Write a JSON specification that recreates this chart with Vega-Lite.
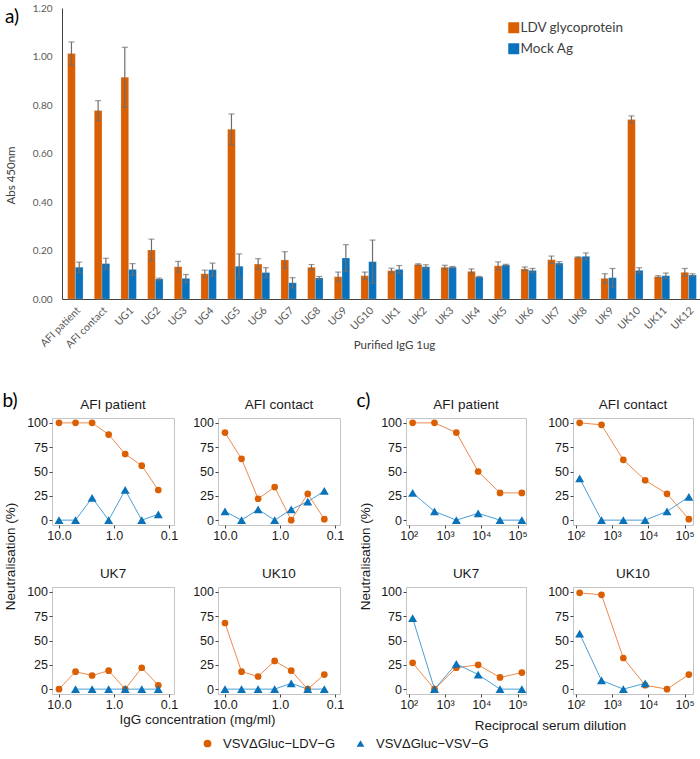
{
  "$schema": "https://vega.github.io/schema/vega-lite/v6.json",
  "padding": {"left": 2, "top": 3, "right": 0, "bottom": 0},
  "background": "white",
  "spacing": 40,
  "resolve": {"scale": {"color": "independent", "shape": "independent", "stroke": "independent", "size": "independent"}, "legend": {"color": "independent", "shape": "independent"}},
  "config": {
    "view": {"stroke": "#c4c4c4"},
    "axis": {"labelFont": "Liberation Sans", "labelFontSize": 12.5, "labelColor": "#1a1a1a", "tickColor": "#444444", "tickSize": 3, "domain": false, "grid": false, "labelPadding": 1.5, "titleFont": "Liberation Sans", "titleFontSize": 13.5, "titleFontWeight": "normal", "titleColor": "#1a1a1a", "labelOverlap": false, "labelFlush": false},
    "title": {"font": "Liberation Sans", "fontSize": 13.5, "fontWeight": "normal", "color": "#1a1a1a", "offset": 5}
  },
  "datasets": {
    "adata": [
      {"sample": "AFI patient", "antigen": "LDV glycoprotein", "value": 1.012, "lo": 0.964, "hi": 1.06},
      {"sample": "AFI patient", "antigen": "Mock Ag", "value": 0.131, "lo": 0.11, "hi": 0.152},
      {"sample": "AFI contact", "antigen": "LDV glycoprotein", "value": 0.777, "lo": 0.736, "hi": 0.818},
      {"sample": "AFI contact", "antigen": "Mock Ag", "value": 0.146, "lo": 0.124, "hi": 0.168},
      {"sample": "UG1", "antigen": "LDV glycoprotein", "value": 0.914, "lo": 0.79, "hi": 1.038},
      {"sample": "UG1", "antigen": "Mock Ag", "value": 0.122, "lo": 0.098, "hi": 0.146},
      {"sample": "UG2", "antigen": "LDV glycoprotein", "value": 0.202, "lo": 0.157, "hi": 0.247},
      {"sample": "UG2", "antigen": "Mock Ag", "value": 0.082, "lo": 0.078, "hi": 0.086},
      {"sample": "UG3", "antigen": "LDV glycoprotein", "value": 0.133, "lo": 0.111, "hi": 0.155},
      {"sample": "UG3", "antigen": "Mock Ag", "value": 0.085, "lo": 0.069, "hi": 0.101},
      {"sample": "UG4", "antigen": "LDV glycoprotein", "value": 0.104, "lo": 0.089, "hi": 0.119},
      {"sample": "UG4", "antigen": "Mock Ag", "value": 0.121, "lo": 0.094, "hi": 0.148},
      {"sample": "UG5", "antigen": "LDV glycoprotein", "value": 0.7, "lo": 0.637, "hi": 0.763},
      {"sample": "UG5", "antigen": "Mock Ag", "value": 0.135, "lo": 0.084, "hi": 0.186},
      {"sample": "UG6", "antigen": "LDV glycoprotein", "value": 0.144, "lo": 0.122, "hi": 0.166},
      {"sample": "UG6", "antigen": "Mock Ag", "value": 0.109, "lo": 0.089, "hi": 0.129},
      {"sample": "UG7", "antigen": "LDV glycoprotein", "value": 0.161, "lo": 0.127, "hi": 0.195},
      {"sample": "UG7", "antigen": "Mock Ag", "value": 0.067, "lo": 0.046, "hi": 0.088},
      {"sample": "UG8", "antigen": "LDV glycoprotein", "value": 0.131, "lo": 0.12, "hi": 0.142},
      {"sample": "UG8", "antigen": "Mock Ag", "value": 0.087, "lo": 0.081, "hi": 0.093},
      {"sample": "UG9", "antigen": "LDV glycoprotein", "value": 0.092, "lo": 0.073, "hi": 0.111},
      {"sample": "UG9", "antigen": "Mock Ag", "value": 0.169, "lo": 0.114, "hi": 0.224},
      {"sample": "UG10", "antigen": "LDV glycoprotein", "value": 0.096, "lo": 0.081, "hi": 0.111},
      {"sample": "UG10", "antigen": "Mock Ag", "value": 0.154, "lo": 0.065, "hi": 0.243},
      {"sample": "UK1", "antigen": "LDV glycoprotein", "value": 0.117, "lo": 0.107, "hi": 0.127},
      {"sample": "UK1", "antigen": "Mock Ag", "value": 0.122, "lo": 0.106, "hi": 0.138},
      {"sample": "UK2", "antigen": "LDV glycoprotein", "value": 0.142, "lo": 0.139, "hi": 0.145},
      {"sample": "UK2", "antigen": "Mock Ag", "value": 0.133, "lo": 0.125, "hi": 0.141},
      {"sample": "UK3", "antigen": "LDV glycoprotein", "value": 0.131, "lo": 0.123, "hi": 0.139},
      {"sample": "UK3", "antigen": "Mock Ag", "value": 0.131, "lo": 0.128, "hi": 0.134},
      {"sample": "UK4", "antigen": "LDV glycoprotein", "value": 0.114, "lo": 0.104, "hi": 0.124},
      {"sample": "UK4", "antigen": "Mock Ag", "value": 0.091, "lo": 0.089, "hi": 0.093},
      {"sample": "UK5", "antigen": "LDV glycoprotein", "value": 0.137, "lo": 0.121, "hi": 0.153},
      {"sample": "UK5", "antigen": "Mock Ag", "value": 0.14, "lo": 0.137, "hi": 0.143},
      {"sample": "UK6", "antigen": "LDV glycoprotein", "value": 0.124, "lo": 0.116, "hi": 0.132},
      {"sample": "UK6", "antigen": "Mock Ag", "value": 0.118, "lo": 0.11, "hi": 0.126},
      {"sample": "UK7", "antigen": "LDV glycoprotein", "value": 0.162, "lo": 0.147, "hi": 0.177},
      {"sample": "UK7", "antigen": "Mock Ag", "value": 0.148, "lo": 0.142, "hi": 0.154},
      {"sample": "UK8", "antigen": "LDV glycoprotein", "value": 0.172, "lo": 0.17, "hi": 0.174},
      {"sample": "UK8", "antigen": "Mock Ag", "value": 0.176, "lo": 0.162, "hi": 0.19},
      {"sample": "UK9", "antigen": "LDV glycoprotein", "value": 0.085, "lo": 0.066, "hi": 0.104},
      {"sample": "UK9", "antigen": "Mock Ag", "value": 0.088, "lo": 0.05, "hi": 0.126},
      {"sample": "UK10", "antigen": "LDV glycoprotein", "value": 0.74, "lo": 0.725, "hi": 0.755},
      {"sample": "UK10", "antigen": "Mock Ag", "value": 0.118, "lo": 0.107, "hi": 0.129},
      {"sample": "UK11", "antigen": "LDV glycoprotein", "value": 0.092, "lo": 0.088, "hi": 0.096},
      {"sample": "UK11", "antigen": "Mock Ag", "value": 0.096, "lo": 0.085, "hi": 0.107},
      {"sample": "UK12", "antigen": "LDV glycoprotein", "value": 0.11, "lo": 0.094, "hi": 0.126},
      {"sample": "UK12", "antigen": "Mock Ag", "value": 0.099, "lo": 0.094, "hi": 0.104}
    ],
    "bdata": [
      {"sample": "AFI patient", "virus": "VSVΔGluc−LDV−G", "conc": 10, "neut": 100},
      {"sample": "AFI patient", "virus": "VSVΔGluc−LDV−G", "conc": 5, "neut": 100},
      {"sample": "AFI patient", "virus": "VSVΔGluc−LDV−G", "conc": 2.5, "neut": 100},
      {"sample": "AFI patient", "virus": "VSVΔGluc−LDV−G", "conc": 1.25, "neut": 88},
      {"sample": "AFI patient", "virus": "VSVΔGluc−LDV−G", "conc": 0.625, "neut": 68},
      {"sample": "AFI patient", "virus": "VSVΔGluc−LDV−G", "conc": 0.3125, "neut": 56},
      {"sample": "AFI patient", "virus": "VSVΔGluc−LDV−G", "conc": 0.15625, "neut": 31},
      {"sample": "AFI contact", "virus": "VSVΔGluc−LDV−G", "conc": 10, "neut": 90},
      {"sample": "AFI contact", "virus": "VSVΔGluc−LDV−G", "conc": 5, "neut": 63},
      {"sample": "AFI contact", "virus": "VSVΔGluc−LDV−G", "conc": 2.5, "neut": 22},
      {"sample": "AFI contact", "virus": "VSVΔGluc−LDV−G", "conc": 1.25, "neut": 34},
      {"sample": "AFI contact", "virus": "VSVΔGluc−LDV−G", "conc": 0.625, "neut": 0},
      {"sample": "AFI contact", "virus": "VSVΔGluc−LDV−G", "conc": 0.3125, "neut": 27},
      {"sample": "AFI contact", "virus": "VSVΔGluc−LDV−G", "conc": 0.15625, "neut": 1},
      {"sample": "UK7", "virus": "VSVΔGluc−LDV−G", "conc": 10, "neut": 0},
      {"sample": "UK7", "virus": "VSVΔGluc−LDV−G", "conc": 5, "neut": 18},
      {"sample": "UK7", "virus": "VSVΔGluc−LDV−G", "conc": 2.5, "neut": 14},
      {"sample": "UK7", "virus": "VSVΔGluc−LDV−G", "conc": 1.25, "neut": 19},
      {"sample": "UK7", "virus": "VSVΔGluc−LDV−G", "conc": 0.625, "neut": 0},
      {"sample": "UK7", "virus": "VSVΔGluc−LDV−G", "conc": 0.3125, "neut": 22},
      {"sample": "UK7", "virus": "VSVΔGluc−LDV−G", "conc": 0.15625, "neut": 4},
      {"sample": "UK10", "virus": "VSVΔGluc−LDV−G", "conc": 10, "neut": 68},
      {"sample": "UK10", "virus": "VSVΔGluc−LDV−G", "conc": 5, "neut": 18},
      {"sample": "UK10", "virus": "VSVΔGluc−LDV−G", "conc": 2.5, "neut": 13},
      {"sample": "UK10", "virus": "VSVΔGluc−LDV−G", "conc": 1.25, "neut": 29},
      {"sample": "UK10", "virus": "VSVΔGluc−LDV−G", "conc": 0.625, "neut": 19},
      {"sample": "UK10", "virus": "VSVΔGluc−LDV−G", "conc": 0.3125, "neut": 0},
      {"sample": "UK10", "virus": "VSVΔGluc−LDV−G", "conc": 0.15625, "neut": 15},
      {"sample": "AFI patient", "virus": "VSVΔGluc−VSV−G", "conc": 10, "neut": 0},
      {"sample": "AFI patient", "virus": "VSVΔGluc−VSV−G", "conc": 5, "neut": 0},
      {"sample": "AFI patient", "virus": "VSVΔGluc−VSV−G", "conc": 2.5, "neut": 23},
      {"sample": "AFI patient", "virus": "VSVΔGluc−VSV−G", "conc": 1.25, "neut": 0},
      {"sample": "AFI patient", "virus": "VSVΔGluc−VSV−G", "conc": 0.625, "neut": 31},
      {"sample": "AFI patient", "virus": "VSVΔGluc−VSV−G", "conc": 0.3125, "neut": 0},
      {"sample": "AFI patient", "virus": "VSVΔGluc−VSV−G", "conc": 0.15625, "neut": 6},
      {"sample": "AFI contact", "virus": "VSVΔGluc−VSV−G", "conc": 10, "neut": 9},
      {"sample": "AFI contact", "virus": "VSVΔGluc−VSV−G", "conc": 5, "neut": 0},
      {"sample": "AFI contact", "virus": "VSVΔGluc−VSV−G", "conc": 2.5, "neut": 11},
      {"sample": "AFI contact", "virus": "VSVΔGluc−VSV−G", "conc": 1.25, "neut": 0},
      {"sample": "AFI contact", "virus": "VSVΔGluc−VSV−G", "conc": 0.625, "neut": 11},
      {"sample": "AFI contact", "virus": "VSVΔGluc−VSV−G", "conc": 0.3125, "neut": 19},
      {"sample": "AFI contact", "virus": "VSVΔGluc−VSV−G", "conc": 0.15625, "neut": 30},
      {"sample": "UK7", "virus": "VSVΔGluc−VSV−G", "conc": 5, "neut": 0},
      {"sample": "UK7", "virus": "VSVΔGluc−VSV−G", "conc": 2.5, "neut": 0},
      {"sample": "UK7", "virus": "VSVΔGluc−VSV−G", "conc": 1.25, "neut": 0},
      {"sample": "UK7", "virus": "VSVΔGluc−VSV−G", "conc": 0.625, "neut": 0},
      {"sample": "UK7", "virus": "VSVΔGluc−VSV−G", "conc": 0.3125, "neut": 0},
      {"sample": "UK7", "virus": "VSVΔGluc−VSV−G", "conc": 0.15625, "neut": 0},
      {"sample": "UK10", "virus": "VSVΔGluc−VSV−G", "conc": 10, "neut": 0},
      {"sample": "UK10", "virus": "VSVΔGluc−VSV−G", "conc": 5, "neut": 0},
      {"sample": "UK10", "virus": "VSVΔGluc−VSV−G", "conc": 2.5, "neut": 0},
      {"sample": "UK10", "virus": "VSVΔGluc−VSV−G", "conc": 1.25, "neut": 0},
      {"sample": "UK10", "virus": "VSVΔGluc−VSV−G", "conc": 0.625, "neut": 6},
      {"sample": "UK10", "virus": "VSVΔGluc−VSV−G", "conc": 0.3125, "neut": 0},
      {"sample": "UK10", "virus": "VSVΔGluc−VSV−G", "conc": 0.15625, "neut": 0}
    ],
    "cdata": [
      {"sample": "AFI patient", "virus": "VSVΔGluc−LDV−G", "dil": 128, "neut": 100},
      {"sample": "AFI patient", "virus": "VSVΔGluc−LDV−G", "dil": 512, "neut": 100},
      {"sample": "AFI patient", "virus": "VSVΔGluc−LDV−G", "dil": 2048, "neut": 90},
      {"sample": "AFI patient", "virus": "VSVΔGluc−LDV−G", "dil": 8192, "neut": 50},
      {"sample": "AFI patient", "virus": "VSVΔGluc−LDV−G", "dil": 32768, "neut": 28},
      {"sample": "AFI patient", "virus": "VSVΔGluc−LDV−G", "dil": 131072, "neut": 28},
      {"sample": "AFI contact", "virus": "VSVΔGluc−LDV−G", "dil": 128, "neut": 100},
      {"sample": "AFI contact", "virus": "VSVΔGluc−LDV−G", "dil": 512, "neut": 98},
      {"sample": "AFI contact", "virus": "VSVΔGluc−LDV−G", "dil": 2048, "neut": 62},
      {"sample": "AFI contact", "virus": "VSVΔGluc−LDV−G", "dil": 8192, "neut": 41},
      {"sample": "AFI contact", "virus": "VSVΔGluc−LDV−G", "dil": 32768, "neut": 27},
      {"sample": "AFI contact", "virus": "VSVΔGluc−LDV−G", "dil": 131072, "neut": 1},
      {"sample": "UK7", "virus": "VSVΔGluc−LDV−G", "dil": 128, "neut": 27},
      {"sample": "UK7", "virus": "VSVΔGluc−LDV−G", "dil": 512, "neut": 0},
      {"sample": "UK7", "virus": "VSVΔGluc−LDV−G", "dil": 2048, "neut": 22},
      {"sample": "UK7", "virus": "VSVΔGluc−LDV−G", "dil": 8192, "neut": 25},
      {"sample": "UK7", "virus": "VSVΔGluc−LDV−G", "dil": 32768, "neut": 12},
      {"sample": "UK7", "virus": "VSVΔGluc−LDV−G", "dil": 131072, "neut": 17},
      {"sample": "UK10", "virus": "VSVΔGluc−LDV−G", "dil": 128, "neut": 99},
      {"sample": "UK10", "virus": "VSVΔGluc−LDV−G", "dil": 512, "neut": 97},
      {"sample": "UK10", "virus": "VSVΔGluc−LDV−G", "dil": 2048, "neut": 32},
      {"sample": "UK10", "virus": "VSVΔGluc−LDV−G", "dil": 8192, "neut": 4},
      {"sample": "UK10", "virus": "VSVΔGluc−LDV−G", "dil": 32768, "neut": 0},
      {"sample": "UK10", "virus": "VSVΔGluc−LDV−G", "dil": 131072, "neut": 15},
      {"sample": "AFI patient", "virus": "VSVΔGluc−VSV−G", "dil": 128, "neut": 28},
      {"sample": "AFI patient", "virus": "VSVΔGluc−VSV−G", "dil": 512, "neut": 9},
      {"sample": "AFI patient", "virus": "VSVΔGluc−VSV−G", "dil": 2048, "neut": 0},
      {"sample": "AFI patient", "virus": "VSVΔGluc−VSV−G", "dil": 8192, "neut": 7},
      {"sample": "AFI patient", "virus": "VSVΔGluc−VSV−G", "dil": 32768, "neut": 0},
      {"sample": "AFI patient", "virus": "VSVΔGluc−VSV−G", "dil": 131072, "neut": 0},
      {"sample": "AFI contact", "virus": "VSVΔGluc−VSV−G", "dil": 128, "neut": 43},
      {"sample": "AFI contact", "virus": "VSVΔGluc−VSV−G", "dil": 512, "neut": 0},
      {"sample": "AFI contact", "virus": "VSVΔGluc−VSV−G", "dil": 2048, "neut": 0},
      {"sample": "AFI contact", "virus": "VSVΔGluc−VSV−G", "dil": 8192, "neut": 0},
      {"sample": "AFI contact", "virus": "VSVΔGluc−VSV−G", "dil": 32768, "neut": 9},
      {"sample": "AFI contact", "virus": "VSVΔGluc−VSV−G", "dil": 131072, "neut": 24},
      {"sample": "UK7", "virus": "VSVΔGluc−VSV−G", "dil": 128, "neut": 73},
      {"sample": "UK7", "virus": "VSVΔGluc−VSV−G", "dil": 512, "neut": 0},
      {"sample": "UK7", "virus": "VSVΔGluc−VSV−G", "dil": 2048, "neut": 26},
      {"sample": "UK7", "virus": "VSVΔGluc−VSV−G", "dil": 8192, "neut": 15},
      {"sample": "UK7", "virus": "VSVΔGluc−VSV−G", "dil": 32768, "neut": 0},
      {"sample": "UK7", "virus": "VSVΔGluc−VSV−G", "dil": 131072, "neut": 0},
      {"sample": "UK10", "virus": "VSVΔGluc−VSV−G", "dil": 128, "neut": 57},
      {"sample": "UK10", "virus": "VSVΔGluc−VSV−G", "dil": 512, "neut": 9},
      {"sample": "UK10", "virus": "VSVΔGluc−VSV−G", "dil": 2048, "neut": 0},
      {"sample": "UK10", "virus": "VSVΔGluc−VSV−G", "dil": 8192, "neut": 6}
    ]
  },
  "vconcat": [
    {
      "width": 650,
      "height": 291,
      "view": {"stroke": null},
      "title": {"text": "a)", "anchor": "start", "font": "Lato", "fontSize": 19, "fontWeight": "normal", "color": "#000000", "dx": 0, "dy": 29},
      "data": {"name": "adata"},
      "encoding": {
        "x": {"field": "sample", "type": "nominal", "sort": ["AFI patient", "AFI contact", "UG1", "UG2", "UG3", "UG4", "UG5", "UG6", "UG7", "UG8", "UG9", "UG10", "UK1", "UK2", "UK3", "UK4", "UK5", "UK6", "UK7", "UK8", "UK9", "UK10", "UK11", "UK12"],
          "scale": {"range": [10, 650], "paddingInner": 0.42, "paddingOuter": 0.21},
          "axis": {"title": "Purified IgG 1ug", "titleX": 342, "titleY": 40, "labelAngle": -45, "labelFont": "Lato", "labelFontSize": 10.5, "labelColor": "#595959", "ticks": false, "domain": true, "domainColor": "#404040", "titleFont": "Lato", "titleFontSize": 11.5, "titleColor": "#404040", "labelPadding": 6}},
        "xOffset": {"field": "antigen", "type": "nominal", "sort": ["LDV glycoprotein", "Mock Ag"]}
      },
      "layer": [
        {
          "mark": {"type": "bar", "stroke": "#ffffff", "strokeOpacity": 0.35, "strokeWidth": 0.6},
          "encoding": {
            "y": {"field": "value", "type": "quantitative", "scale": {"domain": [0, 1.2], "nice": false},
              "axis": {"values": [0, 0.2, 0.4, 0.6, 0.8, 1.0, 1.2], "format": ".2f", "ticks": false, "domain": true, "domainColor": "#404040", "offset": -10, "labelFont": "Lato", "labelFontSize": 10, "labelColor": "#595959", "labelPadding": 10, "title": "Abs 450nm", "titleFont": "Lato", "titleFontSize": 11.5, "titleColor": "#404040", "titleX": -46, "titleY": 167}},
            "color": {"field": "antigen", "type": "nominal", "scale": {"domain": ["LDV glycoprotein", "Mock Ag"], "range": ["#DA5F02", "#0A72BC"]},
              "legend": {"orient": "none", "legendX": 455, "legendY": 13, "title": null, "symbolType": "square", "symbolSize": 121, "symbolStrokeWidth": 0, "labelFont": "Lato", "labelFontSize": 13.5, "labelColor": "#404040", "labelOffset": 0, "rowPadding": 6}}
          }
        },
        {
          "mark": {"type": "rule", "color": "#6e6e6e", "strokeWidth": 1.2},
          "encoding": {"y": {"field": "lo", "type": "quantitative"}, "y2": {"field": "hi"}}
        },
        {
          "mark": {"type": "tick", "color": "#6e6e6e", "size": 6, "thickness": 1.2},
          "encoding": {"y": {"field": "hi", "type": "quantitative"}}
        },
        {
          "mark": {"type": "tick", "color": "#6e6e6e", "size": 6, "thickness": 1.2},
          "encoding": {"y": {"field": "lo", "type": "quantitative"}}
        }
      ]
    },
    {
      "spacing": 8,
      "resolve": {"legend": {"color": "independent", "shape": "independent"}},
      "hconcat": [
        {
          "title": {"text": "b)", "anchor": "start", "font": "Lato", "fontSize": 19, "fontWeight": "normal", "color": "#000000", "dx": 0, "dy": 18},
          "bounds": "flush",
          "columns": 2,
          "spacing": {"row": 62, "column": 44},
          "resolve": {"legend": {"color": "independent", "shape": "independent"}},
          "concat": [
            {
              "width": 122, "height": 107, "title": "AFI patient",
              "data": {"name": "bdata"},
              "transform": [{"filter": "datum.sample == 'AFI patient'"}],
              "encoding": {
                "x": {"field": "conc", "type": "quantitative", "scale": {"type": "log", "domain": [0.081, 13.4], "reverse": true, "nice": false}, "axis": {"values": [10, 1, 0.1], "format": ".1f", "title": null}},
                "y": {"field": "neut", "type": "quantitative", "scale": {"domain": [-5, 105], "nice": false}, "axis": {"values": [0, 25, 50, 75, 100], "title": "Neutralisation (%)", "titleX": -35, "titleY": 138}}
              },
              "layer": [
                {"mark": {"type": "line", "strokeWidth": 1}, "encoding": {"stroke": {"field": "virus", "type": "nominal", "scale": {"domain": ["VSVΔGluc−LDV−G", "VSVΔGluc−VSV−G"], "range": ["#EE8A4E", "#4C9FD6"]}, "legend": null}}},
                {"mark": {"type": "point", "filled": true, "opacity": 1},
                  "encoding": {
                    "size": {"field": "virus", "type": "nominal", "scale": {"domain": ["VSVΔGluc−LDV−G", "VSVΔGluc−VSV−G"], "range": [45, 80]}, "legend": null},
                    "color": {"field": "virus", "type": "nominal", "scale": {"domain": ["VSVΔGluc−LDV−G", "VSVΔGluc−VSV−G"], "range": ["#D95F02", "#0A72B8"]}, "legend": null},
                    "shape": {"field": "virus", "type": "nominal", "scale": {"domain": ["VSVΔGluc−LDV−G", "VSVΔGluc−VSV−G"], "range": ["circle", "triangle-up"]}, "legend": null}
                  }}
              ]
            },
            {
              "width": 122, "height": 107, "title": "AFI contact",
              "data": {"name": "bdata"},
              "transform": [{"filter": "datum.sample == 'AFI contact'"}],
              "encoding": {
                "x": {"field": "conc", "type": "quantitative", "scale": {"type": "log", "domain": [0.081, 13.4], "reverse": true, "nice": false}, "axis": {"values": [10, 1, 0.1], "format": ".1f", "title": null}},
                "y": {"field": "neut", "type": "quantitative", "scale": {"domain": [-5, 105], "nice": false}, "axis": {"values": [0, 25, 50, 75, 100], "title": null}}
              },
              "layer": [
                {"mark": {"type": "line", "strokeWidth": 1}, "encoding": {"stroke": {"field": "virus", "type": "nominal", "scale": {"domain": ["VSVΔGluc−LDV−G", "VSVΔGluc−VSV−G"], "range": ["#EE8A4E", "#4C9FD6"]}, "legend": null}}},
                {"mark": {"type": "point", "filled": true, "opacity": 1},
                  "encoding": {
                    "size": {"field": "virus", "type": "nominal", "scale": {"domain": ["VSVΔGluc−LDV−G", "VSVΔGluc−VSV−G"], "range": [45, 80]}, "legend": null},
                    "color": {"field": "virus", "type": "nominal", "scale": {"domain": ["VSVΔGluc−LDV−G", "VSVΔGluc−VSV−G"], "range": ["#D95F02", "#0A72B8"]}, "legend": null},
                    "shape": {"field": "virus", "type": "nominal", "scale": {"domain": ["VSVΔGluc−LDV−G", "VSVΔGluc−VSV−G"], "range": ["circle", "triangle-up"]}, "legend": null}
                  }}
              ]
            },
            {
              "width": 122, "height": 107, "title": "UK7",
              "data": {"name": "bdata"},
              "transform": [{"filter": "datum.sample == 'UK7'"}],
              "encoding": {
                "x": {"field": "conc", "type": "quantitative", "scale": {"type": "log", "domain": [0.081, 13.4], "reverse": true, "nice": false}, "axis": {"values": [10, 1, 0.1], "format": ".1f", "title": "IgG concentration (mg/ml)", "titleX": 145, "titleY": 18}},
                "y": {"field": "neut", "type": "quantitative", "scale": {"domain": [-5, 105], "nice": false}, "axis": {"values": [0, 25, 50, 75, 100], "title": null}}
              },
              "layer": [
                {"mark": {"type": "line", "strokeWidth": 1}, "encoding": {"stroke": {"field": "virus", "type": "nominal", "scale": {"domain": ["VSVΔGluc−LDV−G", "VSVΔGluc−VSV−G"], "range": ["#EE8A4E", "#4C9FD6"]}, "legend": null}}},
                {"mark": {"type": "point", "filled": true, "opacity": 1},
                  "encoding": {
                    "size": {"field": "virus", "type": "nominal", "scale": {"domain": ["VSVΔGluc−LDV−G", "VSVΔGluc−VSV−G"], "range": [45, 80]}, "legend": null},
                    "color": {"field": "virus", "type": "nominal", "scale": {"domain": ["VSVΔGluc−LDV−G", "VSVΔGluc−VSV−G"], "range": ["#D95F02", "#0A72B8"]}, "legend": {"values": ["VSVΔGluc−LDV−G"], "orient": "none", "legendX": 149, "legendY": 150, "direction": "horizontal", "title": null, "labelFont": "Liberation Sans", "labelFontSize": 13, "labelColor": "#1a1a1a", "symbolSize": 60, "symbolStrokeWidth": 0, "labelOffset": 9}},
                    "shape": {"field": "virus", "type": "nominal", "scale": {"domain": ["VSVΔGluc−LDV−G", "VSVΔGluc−VSV−G"], "range": ["circle", "triangle-up"]}, "legend": {"values": ["VSVΔGluc−LDV−G"], "orient": "none", "legendX": 149, "legendY": 150, "direction": "horizontal", "title": null, "labelFont": "Liberation Sans", "labelFontSize": 13, "labelColor": "#1a1a1a", "symbolSize": 60, "symbolStrokeWidth": 0, "labelOffset": 9}}
                  }}
              ]
            },
            {
              "width": 122, "height": 107, "title": "UK10",
              "data": {"name": "bdata"},
              "transform": [{"filter": "datum.sample == 'UK10'"}],
              "encoding": {
                "x": {"field": "conc", "type": "quantitative", "scale": {"type": "log", "domain": [0.081, 13.4], "reverse": true, "nice": false}, "axis": {"values": [10, 1, 0.1], "format": ".1f", "title": null}},
                "y": {"field": "neut", "type": "quantitative", "scale": {"domain": [-5, 105], "nice": false}, "axis": {"values": [0, 25, 50, 75, 100], "title": null}}
              },
              "layer": [
                {"mark": {"type": "line", "strokeWidth": 1}, "encoding": {"stroke": {"field": "virus", "type": "nominal", "scale": {"domain": ["VSVΔGluc−LDV−G", "VSVΔGluc−VSV−G"], "range": ["#EE8A4E", "#4C9FD6"]}, "legend": null}}},
                {"mark": {"type": "point", "filled": true, "opacity": 1},
                  "encoding": {
                    "size": {"field": "virus", "type": "nominal", "scale": {"domain": ["VSVΔGluc−LDV−G", "VSVΔGluc−VSV−G"], "range": [45, 80]}, "legend": null},
                    "color": {"field": "virus", "type": "nominal", "scale": {"domain": ["VSVΔGluc−LDV−G", "VSVΔGluc−VSV−G"], "range": ["#D95F02", "#0A72B8"]}, "legend": null},
                    "shape": {"field": "virus", "type": "nominal", "scale": {"domain": ["VSVΔGluc−LDV−G", "VSVΔGluc−VSV−G"], "range": ["circle", "triangle-up"]}, "legend": null}
                  }}
              ]
            }
          ]
        },
        {
          "title": {"text": "c)", "anchor": "start", "font": "Lato", "fontSize": 19, "fontWeight": "normal", "color": "#000000", "dx": 3, "dy": 18},
          "bounds": "flush",
          "columns": 2,
          "spacing": {"row": 62, "column": 47},
          "resolve": {"legend": {"color": "independent", "shape": "independent"}},
          "concat": [
            {
              "width": 120, "height": 107, "title": "AFI patient",
              "data": {"name": "cdata"},
              "transform": [{"filter": "datum.sample == 'AFI patient'"}],
              "encoding": {
                "x": {"field": "dil", "type": "quantitative", "scale": {"type": "log", "domain": [84, 170500], "nice": false}, "axis": {"values": [100, 1000, 10000, 100000], "labelExpr": "datum.value == 100 ? '10²' : datum.value == 1000 ? '10³' : datum.value == 10000 ? '10⁴' : '10⁵'", "title": null}},
                "y": {"field": "neut", "type": "quantitative", "scale": {"domain": [-5, 105], "nice": false}, "axis": {"values": [0, 25, 50, 75, 100], "title": "Neutralisation (%)", "titleX": -34, "titleY": 138}}
              },
              "layer": [
                {"mark": {"type": "line", "strokeWidth": 1}, "encoding": {"stroke": {"field": "virus", "type": "nominal", "scale": {"domain": ["VSVΔGluc−LDV−G", "VSVΔGluc−VSV−G"], "range": ["#EE8A4E", "#4C9FD6"]}, "legend": null}}},
                {"mark": {"type": "point", "filled": true, "opacity": 1},
                  "encoding": {
                    "size": {"field": "virus", "type": "nominal", "scale": {"domain": ["VSVΔGluc−LDV−G", "VSVΔGluc−VSV−G"], "range": [45, 80]}, "legend": null},
                    "color": {"field": "virus", "type": "nominal", "scale": {"domain": ["VSVΔGluc−LDV−G", "VSVΔGluc−VSV−G"], "range": ["#D95F02", "#0A72B8"]}, "legend": null},
                    "shape": {"field": "virus", "type": "nominal", "scale": {"domain": ["VSVΔGluc−LDV−G", "VSVΔGluc−VSV−G"], "range": ["circle", "triangle-up"]}, "legend": null}
                  }}
              ]
            },
            {
              "width": 120, "height": 107, "title": "AFI contact",
              "data": {"name": "cdata"},
              "transform": [{"filter": "datum.sample == 'AFI contact'"}],
              "encoding": {
                "x": {"field": "dil", "type": "quantitative", "scale": {"type": "log", "domain": [84, 170500], "nice": false}, "axis": {"values": [100, 1000, 10000, 100000], "labelExpr": "datum.value == 100 ? '10²' : datum.value == 1000 ? '10³' : datum.value == 10000 ? '10⁴' : '10⁵'", "title": null}},
                "y": {"field": "neut", "type": "quantitative", "scale": {"domain": [-5, 105], "nice": false}, "axis": {"values": [0, 25, 50, 75, 100], "title": null}}
              },
              "layer": [
                {"mark": {"type": "line", "strokeWidth": 1}, "encoding": {"stroke": {"field": "virus", "type": "nominal", "scale": {"domain": ["VSVΔGluc−LDV−G", "VSVΔGluc−VSV−G"], "range": ["#EE8A4E", "#4C9FD6"]}, "legend": null}}},
                {"mark": {"type": "point", "filled": true, "opacity": 1},
                  "encoding": {
                    "size": {"field": "virus", "type": "nominal", "scale": {"domain": ["VSVΔGluc−LDV−G", "VSVΔGluc−VSV−G"], "range": [45, 80]}, "legend": null},
                    "color": {"field": "virus", "type": "nominal", "scale": {"domain": ["VSVΔGluc−LDV−G", "VSVΔGluc−VSV−G"], "range": ["#D95F02", "#0A72B8"]}, "legend": null},
                    "shape": {"field": "virus", "type": "nominal", "scale": {"domain": ["VSVΔGluc−LDV−G", "VSVΔGluc−VSV−G"], "range": ["circle", "triangle-up"]}, "legend": null}
                  }}
              ]
            },
            {
              "width": 120, "height": 107, "title": "UK7",
              "data": {"name": "cdata"},
              "transform": [{"filter": "datum.sample == 'UK7'"}],
              "encoding": {
                "x": {"field": "dil", "type": "quantitative", "scale": {"type": "log", "domain": [84, 170500], "nice": false}, "axis": {"values": [100, 1000, 10000, 100000], "labelExpr": "datum.value == 100 ? '10²' : datum.value == 1000 ? '10³' : datum.value == 10000 ? '10⁴' : '10⁵'", "title": "Reciprocal serum dilution", "titleX": 144, "titleY": 24}},
                "y": {"field": "neut", "type": "quantitative", "scale": {"domain": [-5, 105], "nice": false}, "axis": {"values": [0, 25, 50, 75, 100], "title": null}}
              },
              "layer": [
                {"mark": {"type": "line", "strokeWidth": 1}, "encoding": {"stroke": {"field": "virus", "type": "nominal", "scale": {"domain": ["VSVΔGluc−LDV−G", "VSVΔGluc−VSV−G"], "range": ["#EE8A4E", "#4C9FD6"]}, "legend": null}}},
                {"mark": {"type": "point", "filled": true, "opacity": 1},
                  "encoding": {
                    "size": {"field": "virus", "type": "nominal", "scale": {"domain": ["VSVΔGluc−LDV−G", "VSVΔGluc−VSV−G"], "range": [45, 80]}, "legend": null},
                    "color": {"field": "virus", "type": "nominal", "scale": {"domain": ["VSVΔGluc−LDV−G", "VSVΔGluc−VSV−G"], "range": ["#D95F02", "#0A72B8"]}, "legend": {"values": ["VSVΔGluc−VSV−G"], "orient": "none", "legendX": -52, "legendY": 150, "direction": "horizontal", "title": null, "labelFont": "Liberation Sans", "labelFontSize": 13, "labelColor": "#1a1a1a", "symbolSize": 60, "symbolStrokeWidth": 0, "labelOffset": 9}},
                    "shape": {"field": "virus", "type": "nominal", "scale": {"domain": ["VSVΔGluc−LDV−G", "VSVΔGluc−VSV−G"], "range": ["circle", "triangle-up"]}, "legend": {"values": ["VSVΔGluc−VSV−G"], "orient": "none", "legendX": -52, "legendY": 150, "direction": "horizontal", "title": null, "labelFont": "Liberation Sans", "labelFontSize": 13, "labelColor": "#1a1a1a", "symbolSize": 60, "symbolStrokeWidth": 0, "labelOffset": 9}}
                  }}
              ]
            },
            {
              "width": 120, "height": 107, "title": "UK10",
              "data": {"name": "cdata"},
              "transform": [{"filter": "datum.sample == 'UK10'"}],
              "encoding": {
                "x": {"field": "dil", "type": "quantitative", "scale": {"type": "log", "domain": [84, 170500], "nice": false}, "axis": {"values": [100, 1000, 10000, 100000], "labelExpr": "datum.value == 100 ? '10²' : datum.value == 1000 ? '10³' : datum.value == 10000 ? '10⁴' : '10⁵'", "title": null}},
                "y": {"field": "neut", "type": "quantitative", "scale": {"domain": [-5, 105], "nice": false}, "axis": {"values": [0, 25, 50, 75, 100], "title": null}}
              },
              "layer": [
                {"mark": {"type": "line", "strokeWidth": 1}, "encoding": {"stroke": {"field": "virus", "type": "nominal", "scale": {"domain": ["VSVΔGluc−LDV−G", "VSVΔGluc−VSV−G"], "range": ["#EE8A4E", "#4C9FD6"]}, "legend": null}}},
                {"mark": {"type": "point", "filled": true, "opacity": 1},
                  "encoding": {
                    "size": {"field": "virus", "type": "nominal", "scale": {"domain": ["VSVΔGluc−LDV−G", "VSVΔGluc−VSV−G"], "range": [45, 80]}, "legend": null},
                    "color": {"field": "virus", "type": "nominal", "scale": {"domain": ["VSVΔGluc−LDV−G", "VSVΔGluc−VSV−G"], "range": ["#D95F02", "#0A72B8"]}, "legend": null},
                    "shape": {"field": "virus", "type": "nominal", "scale": {"domain": ["VSVΔGluc−LDV−G", "VSVΔGluc−VSV−G"], "range": ["circle", "triangle-up"]}, "legend": null}
                  }}
              ]
            }
          ]
        }
      ]
    }
  ]
}
